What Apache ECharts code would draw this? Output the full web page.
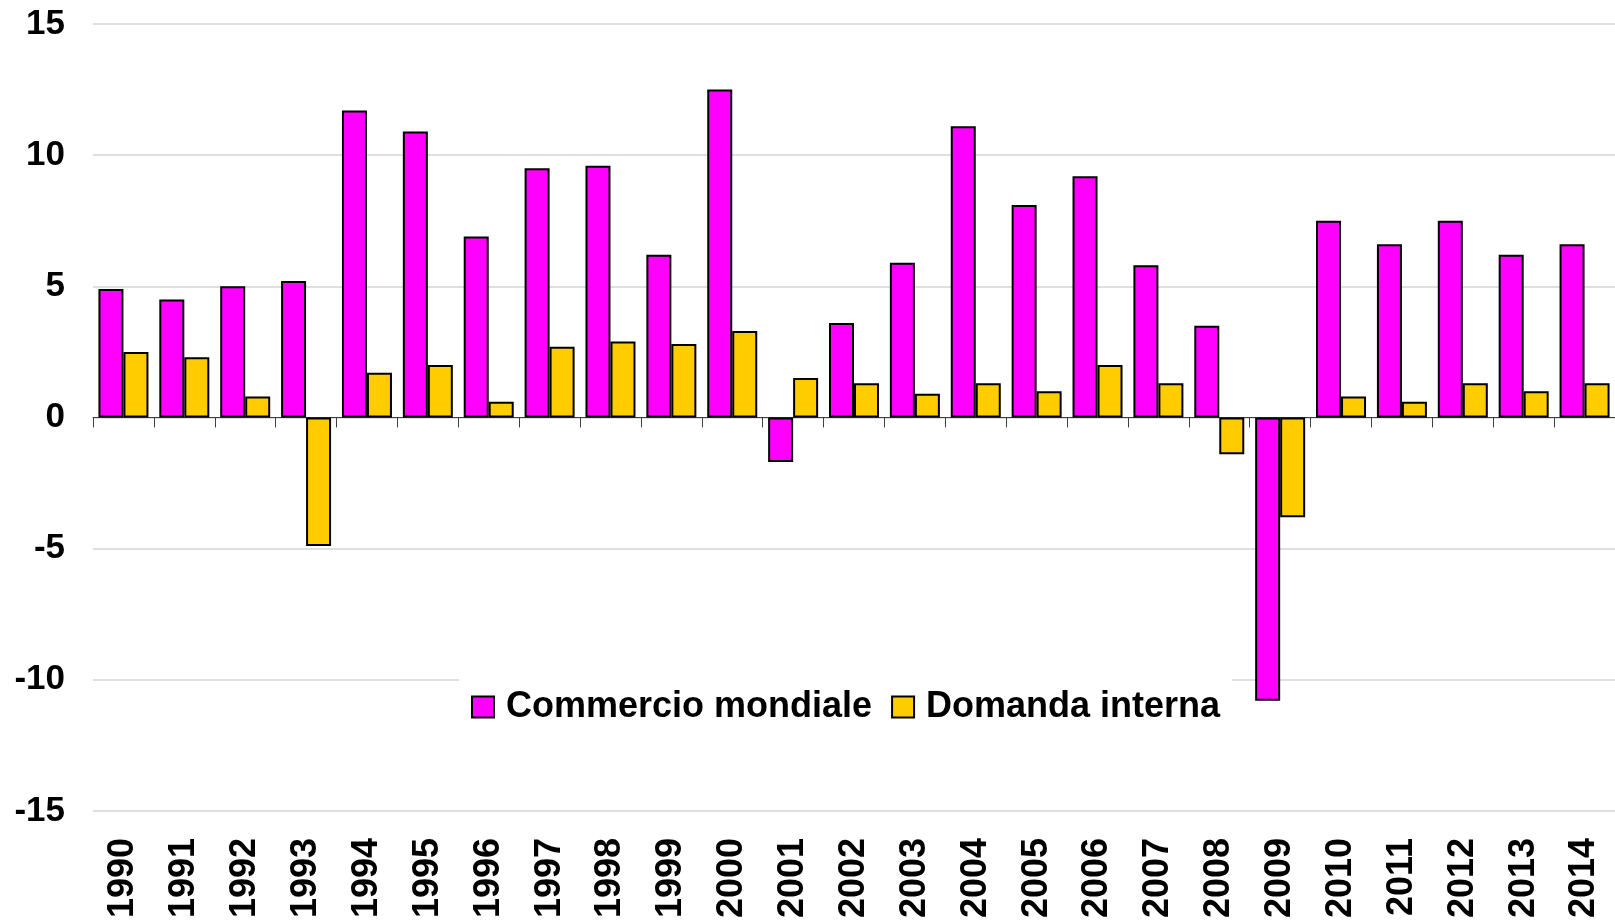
<!DOCTYPE html>
<html>
<head>
<meta charset="utf-8">
<title>Commercio mondiale e domanda interna</title>
<script src="https://cdn.jsdelivr.net/npm/echarts@6.0.0/dist/echarts.min.js"></script>
<style>
  html, body { margin: 0; padding: 0; background: #fff; overflow: hidden; }
  #chart { width: 1615px; height: 921px; }
</style>
</head>
<body>
<div id="chart"></div>
<script>
// anni (asse x)
var anni = ['1990', '1991', '1992', '1993', '1994', '1995', '1996', '1997', '1998', '1999',
  '2000', '2001', '2002', '2003', '2004', '2005', '2006', '2007', '2008', '2009',
  '2010', '2011', '2012', '2013', '2014'];
// variazioni % annue
var commercioMondiale = [4.9, 4.5, 5.0, 5.2, 11.7, 10.9, 6.9, 9.5, 9.6, 6.2,
  12.5, -1.7, 3.6, 5.9, 11.1, 8.1, 9.2, 5.8, 3.5, -10.8,
  7.5, 6.6, 7.5, 6.2, 6.6];
var domandaInterna = [2.5, 2.3, 0.8, -4.9, 1.7, 2.0, 0.6, 2.7, 2.9, 2.8,
  3.3, 1.5, 1.3, 0.9, 1.3, 1.0, 2.0, 1.3, -1.4, -3.8,
  0.8, 0.6, 1.3, 1.0, 1.3];
var nomiSerie = ['Commercio mondiale', 'Domanda interna'];
// scala asse y
var yMin = -15;
var yMax = 15;
var yStep = 5;

var font = '"Liberation Sans", Arial, sans-serif';

var myChart = echarts.init(document.getElementById('chart'));
var option = {
  animation: false,
  backgroundColor: '#fff',
  grid: {
    left: 93,
    top: 24,
    width: 1535, // l'ultimo anno esce dal bordo destro come nell'originale
    bottom: 108
  },
  legend: {
    data: nomiSerie,
    left: 459,
    top: 675,
    icon: 'rect',
    itemWidth: 22,
    itemHeight: 21,
    itemGap: 19,
    padding: [14, 12, 14, 12],
    backgroundColor: '#fff',
    itemStyle: { borderColor: '#000', borderWidth: 2 },
    textStyle: {
      fontSize: 36,
      fontWeight: 'bold',
      color: '#000',
      fontFamily: font,
      padding: [0, 0, 0, 7]
    }
  },
  xAxis: [
    {
      // linea dello zero con le tacche
      type: 'category',
      data: anni,
      position: 'bottom',
      axisLine: { onZero: true, lineStyle: { color: '#404040', width: 1 } },
      axisTick: { show: true, length: 10, lineStyle: { color: '#404040', width: 1 } },
      axisLabel: { show: false }
    },
    {
      // etichette in basso
      type: 'category',
      data: anni,
      position: 'bottom',
      axisLine: { show: false, onZero: false },
      axisTick: { show: false },
      axisLabel: {
        rotate: 90,
        margin: 27,
        fontSize: 36,
        fontWeight: 'bold',
        color: '#000',
        fontFamily: font
      }
    }
  ],
  yAxis: {
    type: 'value',
    min: yMin,
    max: yMax,
    interval: yStep,
    axisLine: { show: false },
    axisTick: { show: false },
    splitLine: { lineStyle: { color: '#d4d4d4', width: 1.5 } },
    axisLabel: {
      margin: 28,
      fontSize: 35,
      fontWeight: 'bold',
      color: '#000',
      fontFamily: font
    }
  },
  series: [
    {
      name: nomiSerie[0],
      type: 'bar',
      xAxisIndex: 0,
      data: commercioMondiale,
      barWidth: 25,
      barGap: '0%',
      itemStyle: { color: '#FF00FF', borderColor: '#000', borderWidth: 2 }
    },
    {
      name: nomiSerie[1],
      type: 'bar',
      xAxisIndex: 0,
      data: domandaInterna,
      barWidth: 25,
      barGap: '0%',
      itemStyle: { color: '#FFCC00', borderColor: '#000', borderWidth: 2 }
    }
  ]
};
myChart.setOption(option);
</script>
</body>
</html>
